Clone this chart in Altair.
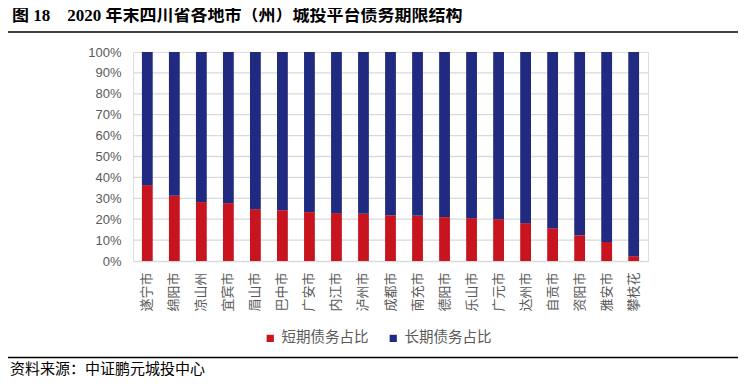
import altair as alt
import pandas as pd

cities = ["遂宁市", "绵阳市", "凉山州", "宜宾市", "眉山市", "巴中市", "广安市", "内江市", "泸州市",
          "成都市", "南充市", "德阳市", "乐山市", "广元市", "达州市", "自贡市", "资阳市", "雅安市", "攀枝花"]
short_term = [36.3, 31.2, 28.2, 27.7, 24.8, 24.3, 23.4, 22.9, 22.6, 21.9, 21.6, 21.0, 20.5, 20.0, 18.1, 15.7, 12.3, 9.1, 2.3]
long_term = [63.7, 68.8, 71.8, 72.3, 75.2, 75.7, 76.6, 77.1, 77.4, 78.1, 78.4, 79.0, 79.5, 80.0, 81.9, 84.3, 87.7, 90.9, 97.7]
series_names = ["短期债务占比", "长期债务占比"]
series_colors = ["#C8141F", "#202A81"]
y_ticks = [0, 10, 20, 30, 40, 50, 60, 70, 80, 90, 100]
grid_values = [10, 20, 30, 40, 50, 60, 70, 80, 90]
title_text = "图 18\u30002020 年末四川省各地市（州）城投平台债务期限结构"
source_text = "资料来源：中证鹏元城投中心"

rows = []
for i, c in enumerate(cities):
    rows.append({"city": c, "series": series_names[0], "value": short_term[i], "ord": 0})
    rows.append({"city": c, "series": series_names[1], "value": long_term[i], "ord": 1})
df = pd.DataFrame(rows)

label_font = "Liberation Sans, Noto Sans CJK SC"
gray = "#595959"

y_scale = alt.Scale(domain=[0, 100], nice=False)
y_axis = alt.Axis(values=y_ticks, labelExpr="datum.value + '%'", grid=False, domain=False,
                  ticks=False, labelFontSize=13, labelColor=gray, labelFont=label_font,
                  labelPadding=12, labelOverlap=False, title=None)

bars = alt.Chart(df).mark_bar().encode(
    x=alt.X("city:N", sort=cities, title=None,
            scale=alt.Scale(paddingInner=0.6, paddingOuter=0.33),
            axis=alt.Axis(labelAngle=270, labelFontSize=13, labelColor=gray, labelFont=label_font,
                          labelPadding=11, ticks=False, domainColor="#D9D9D9", domainWidth=1.3,
                          labelBaseline="middle")),
    y=alt.Y("value:Q", stack="zero", title=None, scale=y_scale, axis=y_axis),
    color=alt.Color("series:N", title=None,
                    scale=alt.Scale(domain=series_names, range=series_colors),
                    legend=alt.Legend(orient="none", legendX=130, legendY=279, direction="horizontal",
                                      symbolType="square", symbolSize=52, symbolStrokeWidth=0,
                                      labelFontSize=14.5, labelColor=gray, labelFont=label_font,
                                      labelOffset=4, columnPadding=17, padding=0)),
    order=alt.Order("ord:Q"),
)

grid = alt.Chart(pd.DataFrame({"g": grid_values})).mark_rule(color="#D9D9D9", strokeWidth=1.3).encode(
    y=alt.Y("g:Q", title=None, scale=y_scale, axis=y_axis)
)

title = alt.Chart(pd.DataFrame({"t": [title_text]})).mark_text(
    align="left", baseline="middle", fontSize=17, fontWeight="bold", color="#000000",
    font="Liberation Serif, Noto Sans CJK SC"
).encode(x=alt.value(-121), y=alt.value(-36), text="t:N")

top_line = alt.Chart(pd.DataFrame({"a": [0]})).mark_rule(color="#000000", strokeWidth=1.4).encode(
    x=alt.value(-131), x2=alt.value(611), y=alt.value(-20)
)
bottom_line = alt.Chart(pd.DataFrame({"a": [0]})).mark_rule(color="#000000", strokeWidth=1.4).encode(
    x=alt.value(-131), x2=alt.value(611), y=alt.value(305.5)
)
source = alt.Chart(pd.DataFrame({"s": [source_text]})).mark_text(
    align="left", baseline="middle", fontSize=15, color="#000000", font="Noto Sans CJK SC"
).encode(x=alt.value(-123), y=alt.value(317), text="s:N")

chart = alt.layer(grid, bars, title, top_line, bottom_line, source).properties(
    width=515, height=209,
    autosize=alt.AutoSizeParams(type="none"),
    padding={"left": 125, "top": 44, "right": 90, "bottom": 122},
).configure_view(stroke=None).configure(background="#FFFFFF")

chart.save("out.html", embed_options={"renderer": "svg", "actions": False})
